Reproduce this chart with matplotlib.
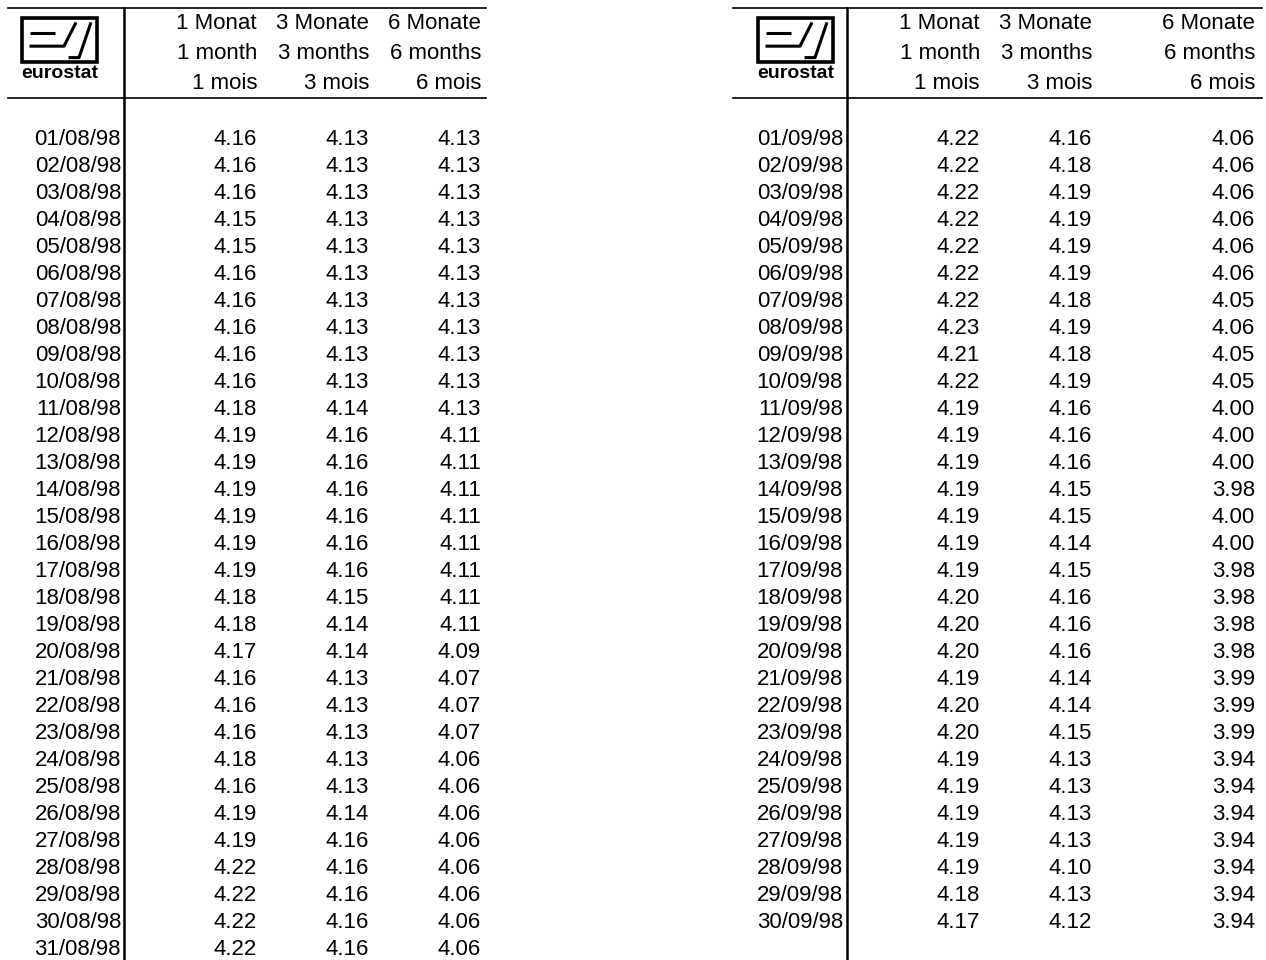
import matplotlib
matplotlib.use('Agg')
import matplotlib.pyplot as plt

plt.rcParams['font.family'] = ['Liberation Sans', 'DejaVu Sans']

# column headers (German / English / French)
head_de = ['1 Monat', '3 Monate', '6 Monate']
head_en = ['1 month', '3 months', '6 months']
head_fr = ['1 mois', '3 mois', '6 mois']

# August 1998
dates_aug = ['%02d/08/98' % d for d in range(1, 32)]
m1_aug = [4.16, 4.16, 4.16, 4.15, 4.15, 4.16, 4.16, 4.16, 4.16, 4.16,
          4.18, 4.19, 4.19, 4.19, 4.19, 4.19, 4.19, 4.18, 4.18, 4.17,
          4.16, 4.16, 4.16, 4.18, 4.16, 4.19, 4.19, 4.22, 4.22, 4.22, 4.22]
m3_aug = [4.13, 4.13, 4.13, 4.13, 4.13, 4.13, 4.13, 4.13, 4.13, 4.13,
          4.14, 4.16, 4.16, 4.16, 4.16, 4.16, 4.16, 4.15, 4.14, 4.14,
          4.13, 4.13, 4.13, 4.13, 4.13, 4.14, 4.16, 4.16, 4.16, 4.16, 4.16]
m6_aug = [4.13, 4.13, 4.13, 4.13, 4.13, 4.13, 4.13, 4.13, 4.13, 4.13,
          4.13, 4.11, 4.11, 4.11, 4.11, 4.11, 4.11, 4.11, 4.11, 4.09,
          4.07, 4.07, 4.07, 4.06, 4.06, 4.06, 4.06, 4.06, 4.06, 4.06, 4.06]

# September 1998
dates_sep = ['%02d/09/98' % d for d in range(1, 31)]
m1_sep = [4.22, 4.22, 4.22, 4.22, 4.22, 4.22, 4.22, 4.23, 4.21, 4.22,
          4.19, 4.19, 4.19, 4.19, 4.19, 4.19, 4.19, 4.20, 4.20, 4.20,
          4.19, 4.20, 4.20, 4.19, 4.19, 4.19, 4.19, 4.19, 4.18, 4.17]
m3_sep = [4.16, 4.18, 4.19, 4.19, 4.19, 4.19, 4.18, 4.19, 4.18, 4.19,
          4.16, 4.16, 4.16, 4.15, 4.15, 4.14, 4.15, 4.16, 4.16, 4.16,
          4.14, 4.14, 4.15, 4.13, 4.13, 4.13, 4.13, 4.10, 4.13, 4.12]
m6_sep = [4.06, 4.06, 4.06, 4.06, 4.06, 4.06, 4.05, 4.06, 4.05, 4.05,
          4.00, 4.00, 4.00, 3.98, 4.00, 4.00, 3.98, 3.98, 3.98, 3.98,
          3.99, 3.99, 3.99, 3.94, 3.94, 3.94, 3.94, 3.94, 3.94, 3.94]

fig = plt.figure(figsize=(12.66, 9.6), dpi=100)
ax = fig.add_axes([0, 0, 1, 1])
ax.set_xlim(0, 1266)
ax.set_ylim(960, 0)
ax.axis('off')

FS = 16
ROW0 = 145      # baseline of first data row
ROWH = 27.0


def logo(x0, y0, w=75, h=44):
    # framed E/S mark
    ax.add_patch(plt.Rectangle((x0, y0), w, h, fill=False, lw=2.6, color='black'))
    P = lambda u, v: (x0 + u * w, y0 + v * h)
    segs = [[(0.10, 0.34), (0.44, 0.34)],
            [(0.10, 0.64), (0.56, 0.64), (0.72, 0.10)],
            [(0.62, 0.90), (0.76, 0.90), (0.92, 0.10)]]
    for s in segs:
        pts = [P(u, v) for u, v in s]
        ax.plot([p[0] for p in pts], [p[1] for p in pts], color='black', lw=2.2,
                solid_capstyle='butt')
    ax.text(x0 + w / 2, y0 + h + 16, 'eurostat', fontsize=14, ha='center',
            va='baseline', fontweight='bold')


def table(xl, xr, xv, xd, xcols, dates, c1, c2, c3):
    ax.plot([xl, xr], [8, 8], color='black', lw=1.2)
    ax.plot([xl, xr], [98, 98], color='black', lw=1.2)
    ax.plot([xv, xv], [8, 960], color='black', lw=1.8)
    for j, xc in enumerate(xcols):
        ax.text(xc, 29, head_de[j], fontsize=FS, ha='right', va='baseline')
        ax.text(xc, 59, head_en[j], fontsize=FS, ha='right', va='baseline')
        ax.text(xc, 89, head_fr[j], fontsize=FS, ha='right', va='baseline')
    for i, d in enumerate(dates):
        y = ROW0 + i * ROWH
        ax.text(xd, y, d, fontsize=FS, ha='right', va='baseline')
        for xc, col in zip(xcols, (c1, c2, c3)):
            ax.text(xc, y, '%.2f' % col[i], fontsize=FS, ha='right', va='baseline')


table(8, 486, 124, 121, [257, 369, 481], dates_aug, m1_aug, m3_aug, m6_aug)
table(733, 1262, 847, 843, [980, 1092, 1255], dates_sep, m1_sep, m3_sep, m6_sep)
logo(22, 18)
logo(758, 18)

fig.savefig('out.png', dpi=100)
